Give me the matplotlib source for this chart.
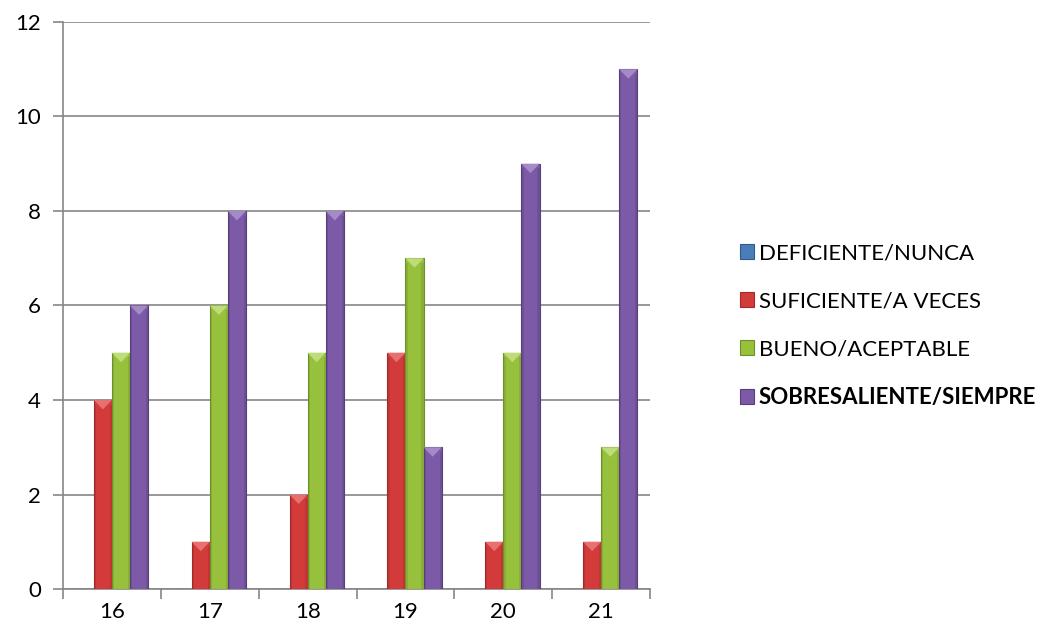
import numpy as np
import matplotlib.pyplot as plt
from matplotlib.patches import Rectangle, Polygon

categories = ['16', '17', '18', '19', '20', '21']
series_names = ['DEFICIENTE/NUNCA', 'SUFICIENTE/A VECES', 'BUENO/ACEPTABLE', 'SOBRESALIENTE/SIEMPRE']
deficiente = [0, 0, 0, 0, 0, 0]
suficiente = [4, 1, 2, 5, 1, 1]
bueno = [5, 6, 5, 7, 5, 3]
sobresaliente = [6, 8, 8, 3, 9, 11]

colors = ['#4A7EBB', '#D33B3B', '#97C13D', '#7D5AA8']
edge_colors = ['#2F5A8F', '#9E2A2A', '#6E8F2A', '#57407A']
top_colors = ['#7FA6D6', '#E87070', '#BEDD78', '#A48BC8']

plt.rcParams['font.family'] = ['Lato', 'DejaVu Sans']

fig = plt.figure(figsize=(10.54, 6.35), dpi=100)
ax = fig.add_axes([0.0598, 0.0724, 0.557, 0.893])

x = np.arange(len(categories))
w = 0.185
data = [deficiente, suficiente, bueno, sobresaliente]
bevel = 0.2

for i, vals in enumerate(data):
    offs = (i - 1.5) * w
    bars = ax.bar(x + offs, vals, w, color=colors[i], edgecolor=edge_colors[i],
                  linewidth=0.8, zorder=3)
    for b in bars:
        h = b.get_height()
        if h <= 0:
            continue
        x0 = b.get_x()
        bw = b.get_width()
        tri = Polygon([[x0, h], [x0 + bw, h], [x0 + bw / 2, h - bevel]],
                      closed=True, facecolor=top_colors[i], edgecolor='none', zorder=4)
        ax.add_patch(tri)
        # darker side shading
        ax.add_patch(Rectangle((x0, 0), bw * 0.12, h - bevel * 0.5, facecolor=edge_colors[i],
                               alpha=0.35, edgecolor='none', zorder=4))
        ax.add_patch(Rectangle((x0 + bw * 0.88, 0), bw * 0.12, h - bevel * 0.5, facecolor=edge_colors[i],
                               alpha=0.35, edgecolor='none', zorder=4))

ax.set_xlim(-0.5, len(categories) - 0.5)
ax.set_ylim(0, 12)
ax.set_yticks(range(0, 13, 2))
ax.yaxis.grid(True, color='#868686', linewidth=1.2, zorder=0)
ax.set_axisbelow(True)

ax.set_xticks(np.arange(-0.5, len(categories), 1.0))
ax.set_xticklabels([])
ax.set_xticks(x, minor=True)
ax.set_xticklabels(categories, minor=True)
ax.tick_params(axis='x', which='minor', length=0, pad=9, labelsize=16)
ax.tick_params(axis='x', which='major', length=7, width=1.2, color='#868686')
ax.tick_params(axis='y', length=7, width=1.2, color='#868686', labelsize=16, pad=9)

for s in ['top', 'right']:
    ax.spines[s].set_visible(False)
for s in ['left', 'bottom']:
    ax.spines[s].set_color('#868686')
    ax.spines[s].set_linewidth(1.2)

handles = [Rectangle((0, 0), 1, 1, facecolor=colors[i], edgecolor=edge_colors[i], linewidth=0.8)
           for i in range(4)]
leg = fig.legend(handles, series_names, loc='center left', bbox_to_anchor=(0.702, 0.487),
                 frameon=False, fontsize=16, handlelength=0.65, handleheight=0.65,
                 handletextpad=0.2, labelspacing=1.25, borderpad=0, borderaxespad=0)
leg.get_texts()[3].set_fontweight('bold')

fig.savefig('out.png', dpi=100)
